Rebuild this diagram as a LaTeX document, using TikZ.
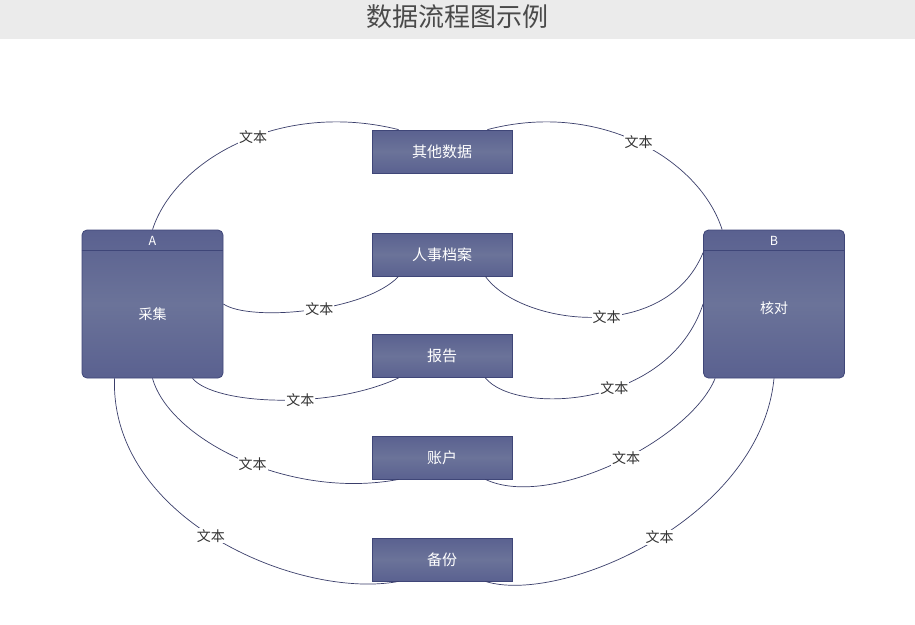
\documentclass[tikz,border=0pt]{standalone}
\usepackage{fontspec}
\setmainfont{Noto Sans CJK SC}
\usetikzlibrary{calc}
\definecolor{boxdark}{HTML}{5A6190}
\definecolor{boxlight}{HTML}{6B7399}
\definecolor{boxline}{HTML}{3F4678}
\definecolor{linkc}{HTML}{3A3E6A}
\definecolor{titlebg}{HTML}{EBEBEB}
\definecolor{titlefg}{HTML}{4A4A4A}
\begin{document}
\begin{tikzpicture}[x=1pt,y=-1pt,
  databox/.style={draw=boxline, line width=0.8pt, top color=boxdark, bottom color=boxdark,
    middle color=boxlight, minimum width=140pt, minimum height=43pt, inner sep=0pt,
    text=white, font=\fontsize{15pt}{15pt}\selectfont},
  entity/.style={draw=boxline, line width=0.8pt, rounded corners=5pt, top color=boxdark,
    bottom color=boxdark, middle color=boxlight, minimum width=141pt, minimum height=148pt,
    inner sep=0pt},
  inname/.style={text=white, font=\fontsize{14pt}{14pt}\selectfont, inner sep=0pt},
  headname/.style={text=white, font=\fontsize{12.5pt}{12.5pt}\selectfont, inner sep=0pt},
  link/.style={draw=linkc, line width=0.7pt},
  lbl/.style={fill=white, inner sep=1pt, text=black!80, font=\fontsize{14pt}{14pt}\selectfont}
]
\useasboundingbox (0,0) rectangle (915,624);
\fill[white] (0,0) rectangle (915,624);
\fill[titlebg] (0,0) rectangle (915,39);
\node[text=titlefg, font=\fontsize{26pt}{26pt}\selectfont, inner sep=0pt] (title) at (457.5,17) {数据流程图示例};

% entities
\node[entity] (A) at (152.5,304) {};
\node[entity] (B) at (774,304) {};
\draw[boxline, line width=0.8pt] ($(A.north west)+(0,21)$) -- ($(A.north east)+(0,21)$);
\draw[boxline, line width=0.8pt] ($(B.north west)+(0,21)$) -- ($(B.north east)+(0,21)$);
\node[headname] (Ah) at (152.5,241) {A};
\node[headname] (Bh) at (774,241) {B};
\node[inname] (At) at (152.5,314) {采集};
\node[inname] (Bt) at (774,308) {核对};

% data stores
\node[databox] (d1) at (442,151.5) {其他数据};
\node[databox] (d2) at (442,254.5) {人事档案};
\node[databox] (d3) at (442,356) {报告};
\node[databox] (d4) at (442,457.5) {账户};
\node[databox] (d5) at (442,559.5) {备份};

% links
\draw[link] (A.north) .. controls (175,160) and (280,100) .. ($(d1.north west)+(27,0)$)
  node[lbl,pos=0.55] {文本};
\draw[link] ($(d1.north east)+(-25,0)$) .. controls (600,100) and (700,160) .. ($(B.north west)+(19,0)$)
  node[lbl,pos=0.5] {文本};
\draw[link] (A.east) .. controls (250,322) and (365,312) .. ($(d2.south west)+(27,0)$)
  node[lbl,pos=0.55] {文本};
\draw[link] ($(d2.south east)+(-27,0)$) .. controls (520,325) and (665,345) .. ($(B.north west)+(0,23)$)
  node[lbl,pos=0.55] {文本};
\draw[link] ($(A.south)+(40,0)$) .. controls (215,405) and (330,410) .. ($(d3.south west)+(27,0)$)
  node[lbl,pos=0.59] {文本};
\draw[link] ($(d3.south east)+(-27,0)$) .. controls (515,415) and (668,410) .. (B.west)
  node[lbl,pos=0.58] {文本};
\draw[link] (A.south) .. controls (170,440) and (290,500) .. ($(d4.south west)+(27,0)$)
  node[lbl,pos=0.54] {文本};
\draw[link] ($(d4.south east)+(-27,0)$) .. controls (550,510) and (690,440) .. ($(B.south west)+(12,0)$)
  node[lbl,pos=0.54] {文本};
\draw[link] ($(A.south)+(-38,0)$) .. controls (110,520) and (300,600) .. ($(d5.south west)+(27,0)$)
  node[lbl,pos=0.48] {文本};
\draw[link] ($(d5.south east)+(-27,0)$) .. controls (560,605) and (760,520) .. (B.south)
  node[lbl,pos=0.52] {文本};
\end{tikzpicture}
\end{document}
